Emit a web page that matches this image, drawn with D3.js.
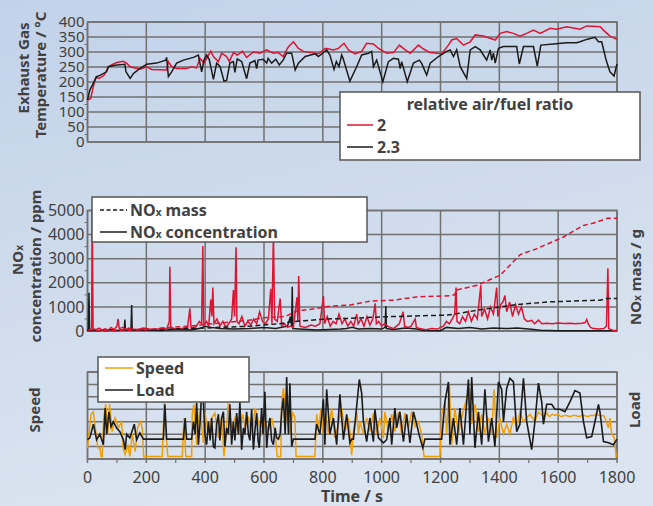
<!DOCTYPE html>
<html>
<head>
<meta charset="utf-8">
<script src="https://cdn.jsdelivr.net/npm/d3@7"></script>
<style>
html, body { margin: 0; padding: 0; }
body { width: 653px; height: 506px; overflow: hidden; }
svg text { font-family: "Noto Sans", "DejaVu Sans", sans-serif; fill: #414141; }
</style>
</head>
<body>
<svg id="chart" width="653" height="506"></svg>
<script>
// ---- data ----
var timeTicks = [0, 200, 400, 600, 800, 1000, 1200, 1400, 1600, 1800];
var tempTicks = [0, 50, 100, 150, 200, 250, 300, 350, 400];
var concTicks = [0, 1000, 2000, 3000, 4000, 5000];
var driveGrid = [0, 10, 20, 30, 40, 50, 60, 70];
var lambdaLabels = ["2", "2.3"];
var noxLabels = ["mass", "concentration"];
var driveLabels = ["Speed", "Load"];

// exhaust gas temperature, degC  [time s, value]
var exhaustLambda2 = [[0,140],[11,145],[17,173],[28,216],[40,212],[57,223],[71,251],[82,257],[99,265],[122,269],[133,263],[145,251],[178,243],[201,251],[218,242],[269,240],[275,268],[286,251],[303,245],[337,245],[354,251],[371,247],[382,279],[396,263],[419,303],[428,285],[445,268],[456,296],[473,285],[482,268],[496,298],[509,290],[527,302],[541,282],[564,300],[586,296],[609,307],[632,296],[649,298],[665,285],[683,318],[700,334],[717,312],[734,302],[785,294],[808,312],[813,312],[836,307],[853,312],[872,329],[887,307],[910,294],[932,302],[949,329],[972,327],[989,312],[1017,296],[1040,298],[1060,323],[1080,307],[1097,296],[1125,323],[1142,310],[1165,298],[1204,294],[1227,323],[1238,340],[1255,345],[1278,323],[1301,334],[1318,357],[1346,353],[1386,340],[1403,362],[1425,368],[1448,362],[1470,353],[1493,362],[1516,373],[1539,362],[1573,379],[1595,376],[1629,384],[1674,376],[1697,387],[1743,384],[1754,373],[1776,353],[1800,342]];
var exhaustLambda23 = [[0,140],[8,173],[31,218],[42,222],[65,234],[71,251],[93,256],[127,259],[131,234],[145,212],[156,228],[178,245],[201,259],[235,263],[266,273],[269,282],[275,218],[286,234],[303,263],[326,273],[360,282],[377,290],[388,234],[396,273],[405,290],[414,275],[428,209],[439,263],[451,251],[464,203],[473,205],[484,263],[496,268],[501,232],[509,277],[524,268],[541,211],[552,263],[569,271],[575,245],[580,273],[597,276],[609,263],[614,279],[626,263],[640,276],[652,257],[665,273],[677,296],[694,296],[706,240],[717,263],[740,285],[774,294],[785,285],[813,307],[824,290],[838,242],[846,268],[855,251],[864,290],[869,278],[892,203],[915,251],[932,290],[955,296],[966,302],[972,251],[983,273],[1004,201],[1023,268],[1040,279],[1057,276],[1063,245],[1068,268],[1087,201],[1108,263],[1128,273],[1136,262],[1153,223],[1165,263],[1193,285],[1221,302],[1233,307],[1244,285],[1255,307],[1267,251],[1289,212],[1301,307],[1318,318],[1335,307],[1346,290],[1357,273],[1369,307],[1374,273],[1380,296],[1386,263],[1397,312],[1414,318],[1437,318],[1459,318],[1468,260],[1482,318],[1516,318],[1529,253],[1541,323],[1584,327],[1629,331],[1663,331],[1674,334],[1697,342],[1725,349],[1737,334],[1748,334],[1763,273],[1776,234],[1790,220],[1800,260]];

// NOx concentration, ppm
var noxConc2 = [[0,0],[10,50],[14,100],[16,5000],[19,80],[30,60],[40,120],[50,40],[60,90],[70,30],[80,150],[90,60],[100,200],[104,500],[108,100],[120,150],[130,60],[140,120],[150,80],[170,60],[190,120],[210,80],[230,60],[250,100],[270,100],[278,400],[280,2670],[283,150],[300,80],[320,100],[340,150],[348,940],[352,100],[370,200],[380,400],[388,300],[392,3530],[395,250],[405,400],[412,200],[419,1300],[423,600],[426,1800],[430,300],[440,500],[450,200],[460,400],[470,150],[480,300],[490,500],[496,1700],[500,600],[505,3470],[508,400],[515,300],[525,600],[535,200],[545,400],[555,250],[565,500],[575,300],[585,800],[595,400],[605,300],[615,500],[623,1750],[627,300],[632,4050],[636,500],[645,400],[655,1350],[660,200],[670,300],[680,150],[690,200],[700,150],[712,1400],[715,400],[718,2280],[722,200],[740,150],[760,250],[775,200],[790,300],[802,1450],[806,300],[815,600],[825,200],[835,400],[845,300],[855,700],[865,300],[875,500],[885,200],[895,400],[905,200],[915,700],[920,300],[930,500],[940,200],[950,600],[960,250],[970,500],[978,1150],[982,300],[990,400],[1000,200],[1010,300],[1020,200],[1040,100],[1060,300],[1073,800],[1078,200],[1090,150],[1100,200],[1114,500],[1118,150],[1130,100],[1150,50],[1170,100],[1190,80],[1200,150],[1210,200],[1220,400],[1230,300],[1240,500],[1248,700],[1253,1800],[1256,400],[1265,300],[1275,600],[1285,400],[1295,800],[1305,400],[1315,700],[1325,500],[1337,1900],[1340,600],[1350,900],[1360,500],[1370,1000],[1380,700],[1391,1800],[1395,600],[1405,1100],[1413,1230],[1419,1470],[1425,800],[1435,1200],[1445,600],[1455,1100],[1465,700],[1475,1000],[1485,500],[1495,400],[1510,440],[1520,300],[1533,450],[1545,300],[1560,320],[1580,300],[1600,330],[1620,310],[1640,320],[1660,300],[1680,320],[1692,350],[1697,480],[1702,300],[1710,150],[1720,100],[1740,80],[1755,100],[1764,200],[1769,2600],[1772,100],[1785,30],[1800,20]];
var noxConc23 = [[0,0],[3,100],[5,1590],[7,50],[20,20],[50,30],[80,50],[100,20],[125,40],[127,480],[129,30],[148,40],[150,1080],[152,30],[200,40],[250,20],[300,60],[350,40],[380,100],[400,200],[420,150],[450,100],[500,80],[550,100],[600,150],[640,100],[680,200],[690,600],[694,200],[696,1840],[698,100],[720,80],[780,40],[820,60],[860,80],[880,100],[900,150],[920,80],[960,100],[1000,80],[1012,150],[1014,1040],[1016,100],[1040,60],[1080,120],[1120,80],[1140,20],[1200,10],[1220,150],[1260,100],[1300,150],[1340,80],[1380,120],[1420,100],[1460,120],[1500,80],[1540,30],[1600,10],[1700,10],[1800,10]];

// cumulative NOx mass, share of right axis (unlabelled), %
var noxMass2 = [[0,0],[100,0.5],[200,1],[275,3],[350,4],[420,6],[536,8.5],[600,11],[672,12],[716,17],[760,18],[830,20.7],[892,21.5],[960,24.8],[1040,25.6],[1119,28.3],[1232,29.2],[1248,30],[1253,33.9],[1325,38],[1403,46.3],[1471,63.4],[1527,68.3],[1618,78],[1686,87.6],[1731,90.3],[1767,93.6],[1800,93.6]];
var noxMass23 = [[0,0],[200,1],[400,2.5],[550,4],[650,6],[694,7.7],[808,9.9],[892,10.5],[1008,11.8],[1224,13.2],[1346,18],[1460,22],[1573,24.2],[1743,25.6],[1766,27],[1800,27]];

// engine speed and load, relative (unlabelled axes)
var speed = [[0,9],[5,20],[12,36],[20,38],[28,22],[35,9],[42,9],[46,2],[50,2],[55,33],[62,44],[69,20],[75,44],[84,22],[94,33],[105,25],[116,30],[121,9],[128,3.5],[137,11.5],[144,2],[152,20],[162,6],[170,25],[180,30],[186,25],[191,2],[254,2],[261,45],[268,17],[273,2],[322,2],[328,33],[334,2],[354,2],[356,36],[362,44],[371,11.5],[382,41],[394,13],[399,38],[411,20],[422,33],[433,37],[445,17],[456,33],[464,2],[471,20],[479,45],[490,25],[501,33],[513,20],[528,36],[535,25],[547,34],[558,20],[570,41],[581,30],[592,20],[603,30],[615,22],[626,33],[638,20],[645,2],[657,2],[660,44],[666,57],[677,33],[688,20],[697,37],[705,34],[709,2],[773,2],[779,36],[785,25],[794,40],[802,20],[810,36],[819,20],[830,41],[841,17],[853,28],[864,41],[875,22],[887,33],[892,22],[898,3],[904,22],[915,38],[921,20],[926,30],[938,20],[949,33],[960,22],[972,37],[983,20],[994,33],[1006,17],[1011,38],[1023,22],[1034,36],[1045,22],[1057,38],[1068,20],[1079,37],[1091,25],[1102,38],[1113,26],[1125,30],[1136,20],[1144,2],[1198,2],[1204,36],[1215,46],[1221,20],[1230,60],[1238,11.5],[1249,41],[1261,20],[1272,33],[1289,49],[1298,57],[1306,28],[1318,44],[1329,22],[1340,36],[1351,20],[1363,33],[1374,20],[1382,56],[1391,17],[1402,33],[1414,20],[1425,28],[1436,20],[1448,34],[1459,25],[1470,38],[1482,30],[1493,33],[1504,36],[1521,30],[1533,38],[1550,34],[1561,37],[1570,34],[1580,36],[1590,35],[1600,36],[1610,34],[1620,35],[1630,35],[1640,34],[1650,35],[1660,35],[1670,34],[1680,35],[1690,35],[1700,34],[1710,35],[1720,35],[1730,36],[1740,35],[1754,35],[1759,33],[1771,25],[1776,33],[1782,20],[1791,17],[1797,2],[1800,3]];
var load = [[0,15.5],[8,17],[20,28],[31,15.5],[42,20],[54,11.5],[60,41],[65,20],[73,38],[80,26],[88,30],[99,25],[110,22],[122,15.5],[128,7.5],[133,20],[144,17],[159,28],[167,15.5],[178,21],[190,16],[258,16],[263,44],[269,16],[326,16],[332,33],[337,16],[354,16],[360,30],[366,20],[371,45],[377,11.5],[383,30],[388,54],[394,46],[399,20],[405,11.5],[411,30],[417,15],[422,33],[428,10],[433,9],[439,28],[445,36],[450,15],[456,33],[462,38],[467,10],[473,25],[479,20],[484,44],[490,11.5],[496,30],[501,15],[507,37],[513,20],[518,46],[524,7.5],[530,25],[535,20],[541,38],[547,20],[552,15],[558,40],[564,7.5],[570,25],[575,37],[580,15],[584,9],[592,41],[597,20],[603,54],[609,9],[615,25],[620,33],[626,15],[632,11.5],[638,25],[643,17],[649,16],[655,20],[660,38],[666,49],[672,20],[677,66],[683,20],[688,61],[694,10],[700,16],[773,16],[779,28],[790,20],[802,48],[807,11.5],[813,56],[824,20],[836,33],[847,11.5],[858,52],[870,15.5],[881,36],[892,13],[898,16],[904,16],[924,64],[932,53],[938,30],[949,14],[960,33],[972,14],[977,40],[989,17],[1006,13],[1017,15.5],[1028,33],[1034,11.5],[1045,41],[1051,25],[1062,38],[1074,14],[1085,36],[1096,13],[1108,38],[1119,28],[1130,17],[1140,9],[1147,16],[1204,16],[1215,46],[1227,62],[1232,11.5],[1244,33],[1255,11.5],[1266,41],[1278,11.5],[1295,64],[1300,20],[1306,66],[1317,9],[1329,38],[1340,11.5],[1351,56],[1363,14],[1374,33],[1385,10],[1397,62],[1408,56],[1414,30],[1425,57],[1436,65],[1448,62],[1459,22],[1470,28],[1482,65],[1493,30],[1510,7.5],[1521,30],[1533,61],[1544,46],[1550,28],[1561,44],[1578,44],[1589,40],[1606,40],[1623,38],[1640,46],[1657,55],[1674,53],[1686,30],[1697,17],[1714,18],[1725,30],[1737,44],[1742,38],[1754,14],[1771,13],[1788,11.5],[1800,16]];

var RED = "#dc1533", BLACK = "#1b1b1b", ORANGE = "#f29e05", GRID = "#717171";

var svg = d3.select("#chart");

// background
var defs = svg.append("defs");
var bg = defs.append("linearGradient").attr("id", "bg").attr("x1", 0).attr("y1", 0).attr("x2", 0.3).attr("y2", 1);
bg.append("stop").attr("offset", "0%").attr("stop-color", "#c2d2e9");
bg.append("stop").attr("offset", "100%").attr("stop-color", "#dbe4f0");
svg.append("rect").attr("width", 653).attr("height", 506).attr("fill", "url(#bg)");

var x = d3.scaleLinear().domain([0, 1800]).range([87.5, 617]);
var yTemp = d3.scaleLinear().domain([0, 400]).range([142, 22]);
var yConc = d3.scaleLinear().domain([0, 5000]).range([331, 210.5]);
var yMass = d3.scaleLinear().domain([0, 100]).range([331, 210.5]);
var yDrive = d3.scaleLinear().domain([0, 70]).range([459, 372]);

function line(ys) {
  return d3.line().x(function(d){ return x(d[0]); }).y(function(d){ return ys(d[1]); });
}

function grid(ys, hVals, minor, labels, fs) {
  var g = svg.append("g");
  var y0 = ys.range()[0], y1 = ys.range()[1];
  g.append("rect").attr("x", x(0)).attr("y", y1).attr("width", x(1800) - x(0)).attr("height", y0 - y1)
    .attr("fill", "none").attr("stroke", GRID).attr("stroke-width", 1.5);
  g.selectAll(".h").data(hVals).enter().append("line")
    .attr("x1", x(0)).attr("x2", x(1800)).attr("y1", function(d){ return ys(d); }).attr("y2", function(d){ return ys(d); })
    .attr("stroke", GRID).attr("stroke-width", 1.5);
  g.selectAll(".v").data(timeTicks).enter().append("line")
    .attr("x1", function(d){ return x(d); }).attr("x2", function(d){ return x(d); }).attr("y1", y0).attr("y2", y1)
    .attr("stroke", GRID).attr("stroke-width", 1.5);
  if (minor) {
    g.selectAll(".m").data(minor).enter().append("line")
      .attr("x1", x(0) - 3).attr("x2", x(0)).attr("y1", function(d){ return ys(d); }).attr("y2", function(d){ return ys(d); })
      .attr("stroke", GRID).attr("stroke-width", 1);
  }
  if (labels) {
    g.selectAll(".l").data(labels).enter().append("text")
      .attr("x", x(0) - 3).attr("y", function(d){ return ys(d) + fs * 0.35; })
      .attr("text-anchor", "end").style("font-size", fs + "px").text(function(d){ return d; });
  }
  return g;
}

// ---- top panel: exhaust gas temperature ----
grid(yTemp, tempTicks, d3.range(25, 400, 50), tempTicks, 15);
svg.append("path").datum(exhaustLambda2).attr("d", line(yTemp)).attr("fill", "none").attr("stroke", RED).attr("stroke-width", 1.5);
svg.append("path").datum(exhaustLambda23).attr("d", line(yTemp)).attr("fill", "none").attr("stroke", BLACK).attr("stroke-width", 1.5);

// ---- middle panel: NOx ----
grid(yConc, concTicks, d3.range(500, 5000, 1000), concTicks, 16);
svg.append("path").datum(noxConc23).attr("d", line(yConc)).attr("fill", "none").attr("stroke", BLACK).attr("stroke-width", 1.5);
svg.append("path").datum(noxConc2).attr("d", line(yConc)).attr("fill", "none").attr("stroke", RED).attr("stroke-width", 1.5);
svg.append("path").datum(noxMass23).attr("d", line(yMass)).attr("fill", "none").attr("stroke", BLACK).attr("stroke-width", 1.5).attr("stroke-dasharray", "5,3");
svg.append("path").datum(noxMass2).attr("d", line(yMass)).attr("fill", "none").attr("stroke", RED).attr("stroke-width", 1.5).attr("stroke-dasharray", "5,3");

// ---- bottom panel: speed / load ----
var gb = grid(yDrive, driveGrid, null, null, 16);
gb.selectAll(".mt").data(d3.range(100, 1800, 200)).enter().append("line")
  .attr("x1", function(d){ return x(d); }).attr("x2", function(d){ return x(d); })
  .attr("y1", yDrive(0)).attr("y2", yDrive(0) + 4).attr("stroke", GRID).attr("stroke-width", 1.2);
gb.selectAll(".jt").data(timeTicks).enter().append("line")
  .attr("x1", function(d){ return x(d); }).attr("x2", function(d){ return x(d); })
  .attr("y1", yDrive(0)).attr("y2", yDrive(0) + 4).attr("stroke", GRID).attr("stroke-width", 1.5);
svg.append("path").datum(speed).attr("d", line(yDrive)).attr("fill", "none").attr("stroke", ORANGE).attr("stroke-width", 1.5);
svg.append("path").datum(load).attr("d", line(yDrive)).attr("fill", "none").attr("stroke", BLACK).attr("stroke-width", 1.6);

svg.append("g").selectAll("text").data(timeTicks).enter().append("text")
  .attr("x", function(d){ return x(d); }).attr("y", 483).attr("text-anchor", "middle")
  .style("font-size", "16px").text(function(d){ return d; });

// ---- axis titles ----
function vtext(cx, cy, txt, size) {
  return svg.append("text").attr("transform", "translate(" + cx + "," + cy + ") rotate(-90)")
    .attr("text-anchor", "middle").style("font-size", (size || 15) + "px").style("font-weight", "bold").text(txt);
}
vtext(29, 68, "Exhaust Gas");
vtext(46, 75, "Temperature / °C");
var nox1 = vtext(23, 260, "NO");
nox1.append("tspan").style("font-size", "10px").text("x");
vtext(41, 266, "concentration / ppm");
var nox2 = vtext(641, 277, "NO");
nox2.append("tspan").style("font-size", "10px").text("x");
nox2.append("tspan").text(" mass / g");
vtext(40, 410, "Speed");
vtext(640, 410, "Load");
svg.append("text").attr("x", 352).attr("y", 502).attr("text-anchor", "middle")
  .style("font-size", "16px").style("font-weight", "bold").text("Time / s");

// ---- legends ----
function box(x0, y0, w, h) {
  svg.append("rect").attr("x", x0).attr("y", y0).attr("width", w).attr("height", h)
    .attr("fill", "#fff").attr("stroke", "#555").attr("stroke-width", 1.5);
}
box(340, 92, 300, 68);
svg.append("text").attr("x", 490).attr("y", 110).attr("text-anchor", "middle")
  .style("font-size", "16px").style("font-weight", "bold").text("relative air/fuel ratio");
var lg1 = svg.append("g").selectAll("g").data(lambdaLabels).enter().append("g")
  .attr("transform", function(d, i){ return "translate(0," + (125 + i * 22) + ")"; });
lg1.append("line").attr("x1", 347).attr("x2", 373).attr("stroke", function(d, i){ return i ? BLACK : RED; }).attr("stroke-width", 1.5);
lg1.append("text").attr("x", 377).attr("y", 6).style("font-size", "16px").style("font-weight", "bold").text(function(d){ return d; });

box(92, 197, 275, 45);
var lg2 = svg.append("g").selectAll("g").data(noxLabels).enter().append("g")
  .attr("transform", function(d, i){ return "translate(0," + (210 + i * 22) + ")"; });
lg2.append("line").attr("x1", 100).attr("x2", 127).attr("stroke", BLACK).attr("stroke-width", 1.5)
  .attr("stroke-dasharray", function(d, i){ return i ? null : "4,2.5"; });
var lt2 = lg2.append("text").attr("x", 130).attr("y", 6).style("font-size", "16px").style("font-weight", "bold").text("NO");
lt2.append("tspan").style("font-size", "10px").text("x");
lt2.append("tspan").text(function(d){ return " " + d; });

box(98, 357, 151, 45);
var lg3 = svg.append("g").selectAll("g").data(driveLabels).enter().append("g")
  .attr("transform", function(d, i){ return "translate(0," + (368 + i * 22) + ")"; });
lg3.append("line").attr("x1", 105).attr("x2", 133).attr("stroke", function(d, i){ return i ? BLACK : ORANGE; }).attr("stroke-width", 1.5);
lg3.append("text").attr("x", 136).attr("y", 6).style("font-size", "16px").style("font-weight", "bold").text(function(d){ return d; });
</script>
</body>
</html>
